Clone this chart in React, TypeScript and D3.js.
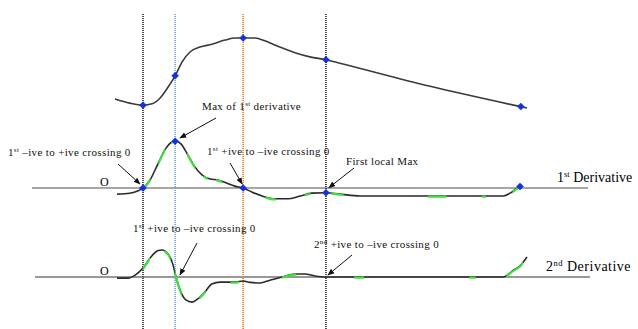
import React from "react";
import * as d3 from "d3";

// time axis (arbitrary units 0..100)
const signalT = [0, 3.6, 6.8, 9.0, 10.9, 12.9, 14.6, 16.3, 18.2, 20.6, 23.5, 26.7, 29.1, 31.1, 34.0, 36.4, 40.0, 43.7, 47.3, 51.2, 54.6, 76.5, 100];
const signalV = [0.13, 0.07, 0.04, 0.06, 0.14, 0.30, 0.46, 0.66, 0.80, 0.87, 0.91, 0.97, 1.0, 1.0, 1.0, 0.96, 0.87, 0.79, 0.73, 0.69, 0.64, 0.31, 0.0];
const signalMarkT = [6.8, 14.6, 31.1, 51.2, 98.5];

const d1T = [0.5, 3.6, 5.6, 6.8, 8.5, 10.4, 12.1, 13.8, 14.8, 16.0, 17.7, 19.4, 21.1, 23.1, 25.0, 26.9, 29.1, 31.1, 33.3, 35.7, 38.8, 42.0, 44.9, 47.8, 51.2, 54.6, 59.5, 69.2, 83.7, 94.2, 95.9, 97.3, 98.8];
const d1V = [-0.13, -0.11, -0.06, 0, 0.17, 0.51, 0.81, 0.98, 1.0, 0.94, 0.70, 0.45, 0.28, 0.19, 0.17, 0.11, 0.04, 0, -0.09, -0.17, -0.23, -0.23, -0.17, -0.11, -0.1, -0.13, -0.17, -0.17, -0.17, -0.17, -0.11, -0.02, 0.06];
const d1MarkT = [6.8, 14.6, 31.1, 51.2, 98.3];
const d1Green = [[6.8, 8.6], [10.5, 12.2], [13.6, 14.4], [17.5, 19.5], [21.5, 22.5], [24.5, 26.0], [36.5, 39.0], [46.0, 47.5], [52.5, 55.5], [76.0, 80.5], [89.0, 90.0], [96.5, 98.5]];

const d2T = [0.5, 3.2, 4.9, 6.8, 8.5, 10.2, 11.4, 12.9, 14.1, 14.8, 15.8, 17.2, 18.7, 20.1, 21.8, 23.5, 25.5, 29.1, 31.1, 32.8, 35.2, 37.6, 40.5, 43.7, 46.1, 48.5, 51.2, 69.2, 94.2, 96.4, 98.3, 100];
const d2V = [-0.04, -0.04, 0.07, 0.33, 0.70, 0.96, 1.0, 0.85, 0.44, 0, -0.48, -0.85, -0.93, -0.81, -0.56, -0.26, -0.19, -0.19, -0.15, -0.2, -0.22, -0.12, 0, 0.11, 0.11, 0.04, 0, 0, 0, 0.22, 0.41, 0.74];
const d2Green = [[6.8, 8.5], [12.0, 13.5], [14.5, 16.2], [20.5, 22.0], [28.0, 30.0], [40.5, 44.0], [58.0, 60.5], [86.0, 87.5], [95.0, 99.0]];

const vlineT = [6.8, 14.6, 31.1, 51.2];
const vlineColor = ["#222", "#6a9fd8", "#f07a1a", "#222"];

const serif = "'Liberation Serif', 'Times New Roman', 'DejaVu Serif', serif";

type Ann = { t: number; v: number; panel: "d1" | "d2"; dx: number; dy: number; lx: number; ly: number; pre: string; sup: string; post: string };
const annotations: Ann[] = [
  { t: 14.8, v: 1.0, panel: "d1", dx: 4, dy: -3, lx: 202, ly: 110, pre: "Max of 1", sup: "st", post: " derivative" },
  { t: 6.8, v: 0, panel: "d1", dx: -3, dy: -4, lx: 8, ly: 156, pre: "1", sup: "st", post: " \u2013ive to +ive crossing 0" },
  { t: 31.1, v: 0, panel: "d1", dx: -1, dy: -4, lx: 207, ly: 155, pre: "1", sup: "st", post: " +ive to \u2013ive crossing 0" },
  { t: 51.2, v: -0.1, panel: "d1", dx: 3, dy: -5, lx: 346, ly: 165, pre: "First local Max", sup: "", post: "" },
  { t: 14.8, v: 0, panel: "d2", dx: 4, dy: -2, lx: 133, ly: 232, pre: "1", sup: "st", post: " +ive to \u2013ive crossing 0" },
  { t: 51.2, v: 0, panel: "d2", dx: 2, dy: -2, lx: 314, ly: 248, pre: "2", sup: "nd", post: " +ive to \u2013ive crossing 0" },
];
const arrowStarts = [[216, 118], [118, 164], [230, 163], [354, 168], [197, 243], [352, 255]];

export default function App() {
  const x = d3.scaleLinear().domain([0, 100]).range([115, 527]);
  const ySig = d3.scaleLinear().domain([0, 1]).range([108, 38]);
  const yD1 = d3.scaleLinear().domain([0, 1]).range([188, 141]);
  const yD2 = d3.scaleLinear().domain([0, 1]).range([277, 250]);

  const mk = (ts: number[], vs: number[], ys: d3.ScaleLinear<number, number>) =>
    d3.line<number>().x((_, i) => x(ts[i])).y((v) => ys(v)).curve(d3.curveMonotoneX)(vs) || "";

  const sigPath = mk(signalT, signalV, ySig);
  const d1Path = mk(d1T, d1V, yD1);
  const d2Path = mk(d2T, d2V, yD2);

  const interp = (ts: number[], vs: number[], t: number) => {
    const i = Math.max(1, d3.bisectLeft(ts, t));
    const j = Math.min(i, ts.length - 1);
    const t0 = ts[j - 1], t1 = ts[j];
    const f = t1 === t0 ? 0 : (t - t0) / (t1 - t0);
    return vs[j - 1] + (vs[j] - vs[j - 1]) * Math.max(0, Math.min(1, f));
  };

  const diamond = (cx: number, cy: number, k: string) => (
    <path key={k} d={`M${cx},${cy - 3.5}L${cx + 3.5},${cy}L${cx},${cy + 3.5}L${cx - 3.5},${cy}Z`} fill="#1530e0" stroke="#1530e0" strokeWidth={0.5} />
  );

  const ts = { fontFamily: serif };

  return (
    <svg width={638} height={329} style={{ position: "absolute", left: 0, top: 0, background: "#fff" }}>
      <defs>
        <marker id="arr" viewBox="0 0 10 10" refX="9" refY="5" markerWidth="7" markerHeight="7" orient="auto">
          <path d="M0,1L10,5L0,9Z" fill="#111" />
        </marker>
        <clipPath id="g1">
          {d1Green.map(([a, b], i) => <rect key={i} x={x(a)} y={0} width={x(b) - x(a)} height={329} />)}
        </clipPath>
        <clipPath id="g2">
          {d2Green.map(([a, b], i) => <rect key={i} x={x(a)} y={0} width={x(b) - x(a)} height={329} />)}
        </clipPath>
      </defs>

      {/* zero axes */}
      <line x1={32} x2={588} y1={yD1(0)} y2={yD1(0)} stroke="#8a8a8a" strokeWidth={1.5} />
      <line x1={35} x2={590} y1={yD2(0)} y2={yD2(0)} stroke="#333" strokeWidth={1} />

      {/* vertical dotted lines */}
      {vlineT.map((t, i) => (
        <line key={i} x1={x(t)} x2={x(t)} y1={14} y2={329} stroke={vlineColor[i]} strokeWidth={1.6} strokeDasharray="1,1" />
      ))}

      {/* curves */}
      <path d={sigPath} fill="none" stroke="#3a3a3a" strokeWidth={1.6} />
      <path d={d1Path} fill="none" stroke="#2a2a2a" strokeWidth={1.6} />
      <path d={d1Path} fill="none" stroke="#3ee03e" strokeWidth={2.2} clipPath="url(#g1)" transform="translate(0,0.6)" />
      <path d={d2Path} fill="none" stroke="#2a2a2a" strokeWidth={1.6} />
      <path d={d2Path} fill="none" stroke="#3ee03e" strokeWidth={2.2} clipPath="url(#g2)" transform="translate(0,0.6)" />

      {/* markers */}
      {signalMarkT.map((t, i) => diamond(x(t), ySig(interp(signalT, signalV, t)), "s" + i))}
      {d1MarkT.map((t, i) => diamond(x(t), yD1(interp(d1T, d1V, t)), "d" + i))}

      {/* O labels */}
      <text x={100} y={186} fontSize={12} style={ts}>O</text>
      <text x={100} y={275} fontSize={12} style={ts}>O</text>

      {/* panel labels */}
      <text x={557} y={182} fontSize={14} style={ts}>1<tspan fontSize={8.5} dy={-5}>st</tspan><tspan dy={5}> Derivative</tspan></text>
      <text x={546} y={271} fontSize={14} letterSpacing={0.5} style={ts}>2<tspan fontSize={8.5} dy={-5}>nd</tspan><tspan dy={5}> Derivative</tspan></text>

      {/* annotations */}
      {annotations.map((a, i) => {
        const ys = a.panel === "d1" ? yD1 : yD2;
        const tx = x(a.t) + a.dx, ty = ys(a.v) + a.dy;
        const [sx, sy] = arrowStarts[i];
        return (
          <g key={i}>
            <line x1={sx} y1={sy} x2={tx} y2={ty} stroke="#111" strokeWidth={1} markerEnd="url(#arr)" />
            <text x={a.lx} y={a.ly} fontSize={11} letterSpacing={0.35} fill="#111" style={ts}>
              {a.pre}
              {a.sup ? <tspan fontSize={7} dy={-4}>{a.sup}</tspan> : null}
              {a.sup ? <tspan dy={4}>{a.post}</tspan> : a.post}
            </text>
          </g>
        );
      })}
    </svg>
  );
}
